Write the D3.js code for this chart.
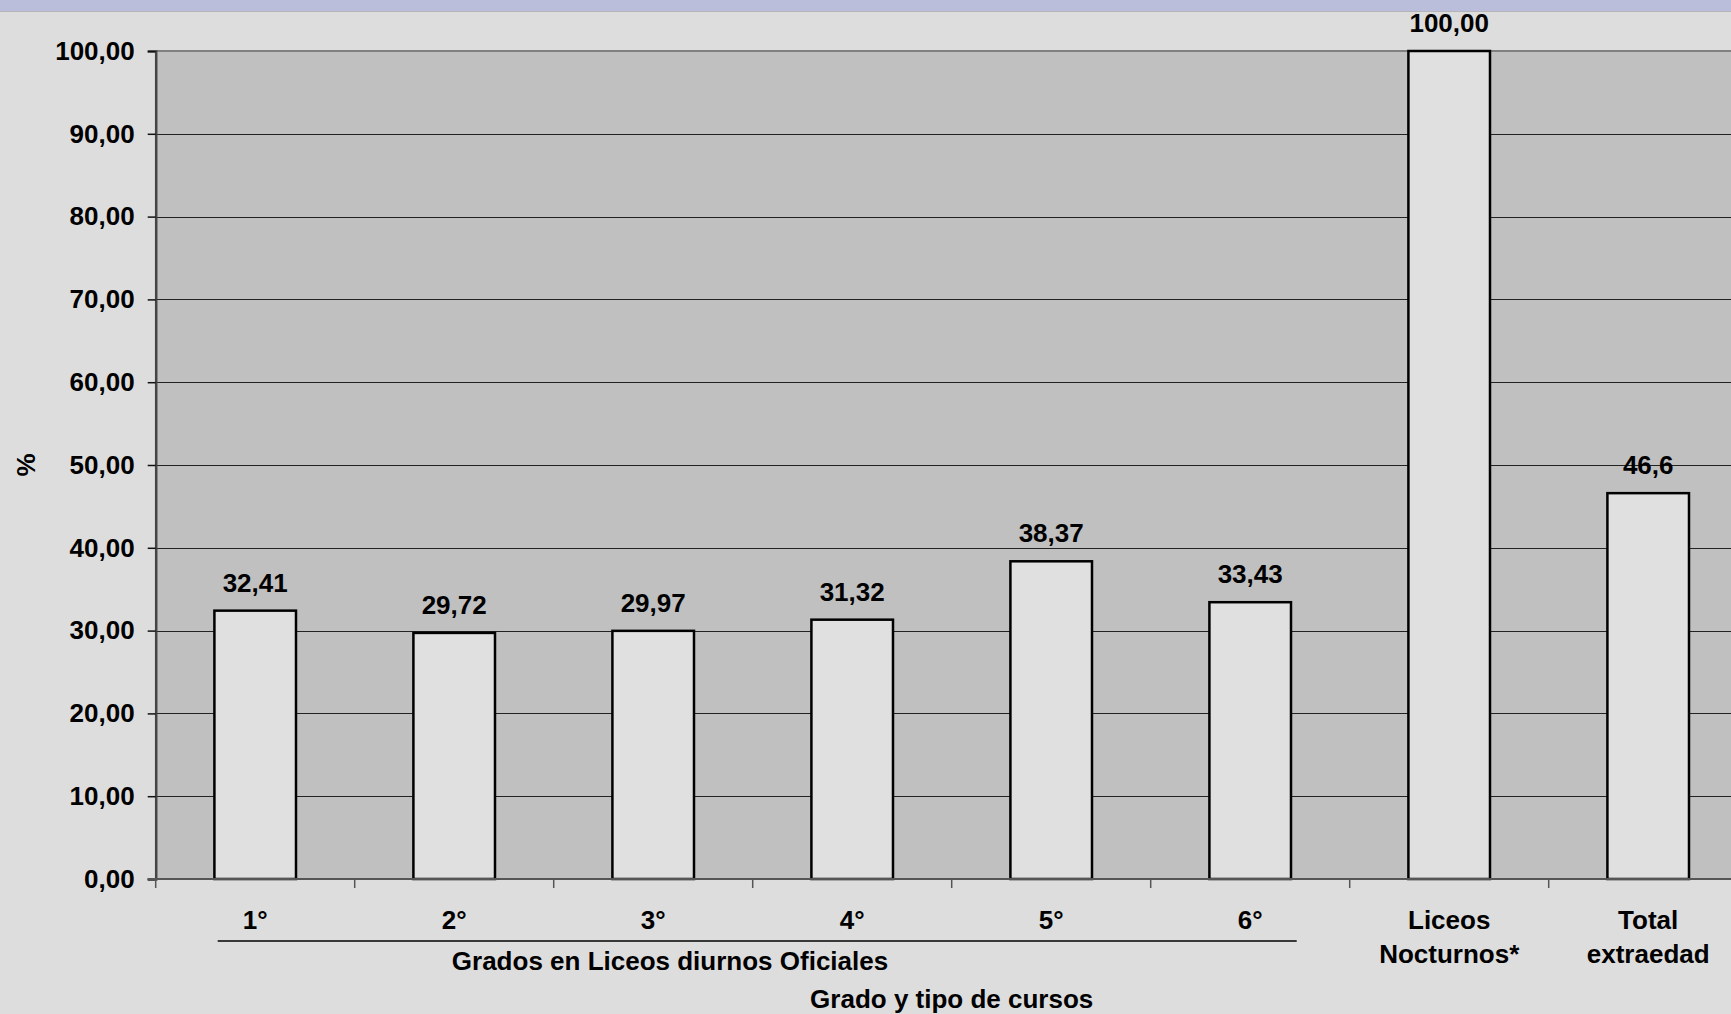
<!DOCTYPE html>
<html>
<head>
<meta charset="utf-8">
<script src="https://cdn.jsdelivr.net/npm/d3@7"></script>
<style>
  body { margin: 0; background: #dddddd; }
  svg { display: block; font-family: "Liberation Sans", Arial, sans-serif; font-weight: bold; }
</style>
</head>
<body>
<svg id="chart"></svg>
<script>
// data
var categories = ["1°", "2°", "3°", "4°", "5°", "6°", "Liceos\nNocturnos*", "Total\nextraedad"];
var values = [32.41, 29.72, 29.97, 31.32, 38.37, 33.43, 100.00, 46.6];
var valueLabels = ["32,41", "29,72", "29,97", "31,32", "38,37", "33,43", "100,00", "46,6"];
var yTicks = [0, 10, 20, 30, 40, 50, 60, 70, 80, 90, 100];

(function () {
var width = 1731, height = 1014;
var mLeft = 155.7, mTop = 51, mBottom = 879, mRight = 1747.7;

var svg = d3.select("#chart").attr("width", width).attr("height", height);

svg.append("rect").attr("width", width).attr("height", height).attr("fill", "#dddddd");
svg.append("rect").attr("width", width).attr("height", 11).attr("fill", "#bbbedb");
svg.append("line").attr("x1", 0).attr("x2", width).attr("y1", 11.5).attr("y2", 11.5)
   .attr("stroke", "#b4b4b8").attr("stroke-width", 1);

var x = d3.scaleBand().domain(categories).range([mLeft, mRight]).padding(0);
var y = d3.scaleLinear().domain([0, 100]).range([mBottom, mTop]);

// plot area
svg.append("rect").attr("x", mLeft).attr("y", mTop)
   .attr("width", mRight - mLeft).attr("height", mBottom - mTop).attr("fill", "#c0c0c0");

// grid
svg.append("g").selectAll("line").data(yTicks.filter(function(d){ return d > 0 && d < 100; }))
   .enter().append("line")
   .attr("x1", mLeft).attr("x2", mRight)
   .attr("y1", function(d){ return Math.round(y(d)) + 0.5; })
   .attr("y2", function(d){ return Math.round(y(d)) + 0.5; })
   .attr("stroke", "#222").attr("stroke-width", 1);

// top border of plot
svg.append("line").attr("x1", mLeft).attr("x2", mRight).attr("y1", mTop).attr("y2", mTop)
   .attr("stroke", "#808080").attr("stroke-width", 2);

// y axis
var fmt = function(d){ return d3.format(".2f")(d).replace(".", ","); };
var yAxis = svg.append("g").attr("transform", "translate(" + mLeft + ",0)")
   .call(d3.axisLeft(y).tickValues(yTicks).tickSize(8).tickPadding(13).tickFormat(fmt));
yAxis.select(".domain").attr("stroke", "#444").attr("stroke-width", 2.5);
yAxis.selectAll(".tick line").attr("stroke", "#111").attr("stroke-width", 1.5);
yAxis.selectAll(".tick text").attr("font-size", 26).attr("font-family", "Liberation Sans, Arial, sans-serif")
   .attr("font-weight", "bold").attr("fill", "#000");

// bars
var barW = x.bandwidth() * 0.41;
svg.append("g").selectAll("rect").data(values).enter().append("rect")
   .attr("x", function(d, i){ return x(categories[i]) + (x.bandwidth() - barW) / 2; })
   .attr("y", function(d){ return y(d); })
   .attr("width", barW)
   .attr("height", function(d){ return y(0) - y(d); })
   .attr("fill", "#e0e0e0").attr("stroke", "#000").attr("stroke-width", 2.5);

// value labels
svg.append("g").selectAll("text").data(values).enter().append("text")
   .attr("x", function(d, i){ return x(categories[i]) + x.bandwidth() / 2; })
   .attr("y", function(d){ return y(d) - 19; })
   .attr("text-anchor", "middle").attr("font-size", 26).attr("fill", "#000")
   .text(function(d, i){ return valueLabels[i]; });

// x axis
var xBoundaries = categories.map(function(c){ return x(c); });
svg.append("line").attr("x1", mLeft - 8).attr("x2", mRight).attr("y1", mBottom).attr("y2", mBottom)
   .attr("stroke", "#555").attr("stroke-width", 2);
svg.append("g").selectAll("line").data(xBoundaries).enter().append("line")
   .attr("x1", function(d){ return d; }).attr("x2", function(d){ return d; })
   .attr("y1", mBottom).attr("y2", mBottom + 9)
   .attr("stroke", "#555").attr("stroke-width", 1.5);

// category labels
var cat = svg.append("g").selectAll("text").data(categories).enter().append("text")
   .attr("x", function(d){ return x(d) + x.bandwidth() / 2; })
   .attr("y", 929)
   .attr("text-anchor", "middle").attr("font-size", 26).attr("fill", "#000");
cat.each(function(d){
  var t = d3.select(this);
  d.split("\n").forEach(function(line, i){
    t.append("tspan").attr("x", t.attr("x")).attr("dy", i ? 34 : 0).text(line);
  });
});

// group bracket
svg.append("line").attr("x1", x(categories[0]) + 62).attr("x2", x(categories[5]) + x.bandwidth() - 53)
   .attr("y1", 941).attr("y2", 941).attr("stroke", "#000").attr("stroke-width", 1.5);
svg.append("text").attr("x", 670).attr("y", 970).attr("text-anchor", "middle")
   .attr("font-size", 26).attr("fill", "#000").text("Grados en Liceos diurnos Oficiales");

// axis titles
svg.append("text").attr("x", (mLeft + mRight) / 2).attr("y", 1008).attr("text-anchor", "middle")
   .attr("font-size", 26).attr("fill", "#000").text("Grado y tipo de cursos");
svg.append("text").attr("transform", "translate(35," + ((mTop + mBottom) / 2) + ") rotate(-90)")
   .attr("text-anchor", "middle").attr("font-size", 26).attr("fill", "#000").text("%");
})();
</script>
</body>
</html>
